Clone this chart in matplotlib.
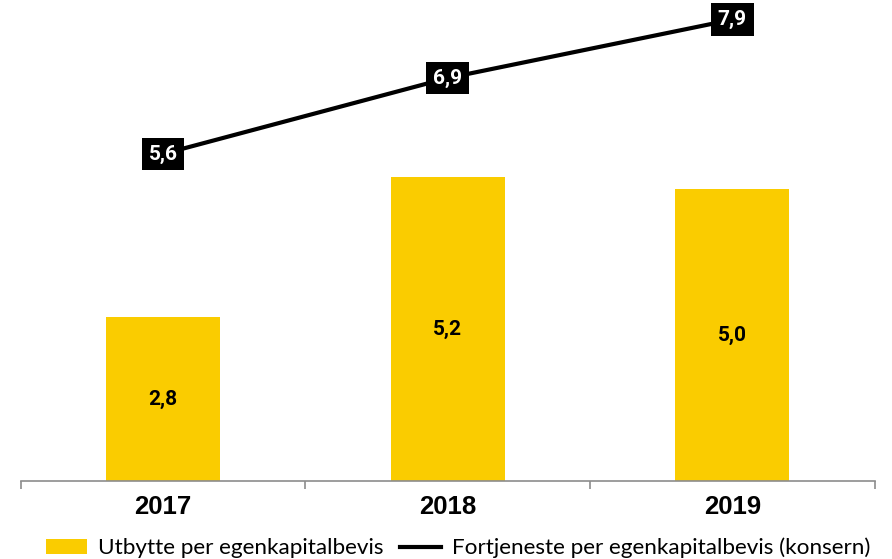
import matplotlib.pyplot as plt
import numpy as np

years = ['2017', '2018', '2019']
utbytte = [2.8, 5.2, 5.0]
fortjeneste = [5.6, 6.9, 7.9]

bar_color = '#FACC00'
legend_font = 'Lato'
label_font = 'Roboto'

fig = plt.figure(figsize=(8.92, 5.59), dpi=100)
ax = fig.add_axes([20.7 / 892, 78 / 559, 854 / 892, 481 / 559])

x = np.arange(len(years))
bars = ax.bar(x, utbytte, width=0.4, color=bar_color, zorder=2)
line, = ax.plot(x, fortjeneste, color='black', lw=3, zorder=3)

for xi, v in zip(x, utbytte):
    ax.text(xi, v / 2, f'{v:.1f}'.replace('.', ','), ha='center', va='center',
            fontsize=15, fontweight='bold', family=label_font, color='black', zorder=4)

for xi, v in zip(x, fortjeneste):
    ax.text(xi, v, f'{v:.1f}'.replace('.', ','), ha='center', va='center',
            fontsize=15, fontweight='bold', family=label_font, color='white', zorder=5,
            bbox=dict(boxstyle='square,pad=0.33', fc='black', ec='none'))

ax.set_xlim(-0.5, 2.5)
ax.set_ylim(0, 481 / 58.4)
for s in ['top', 'right', 'left']:
    ax.spines[s].set_visible(False)
ax.spines['bottom'].set_color('#8c8c8c')
ax.spines['bottom'].set_linewidth(1.2)
ax.set_yticks([])

ax.set_xticks([-0.5, 0.5, 1.5, 2.5])
ax.set_xticklabels([])
ax.tick_params(axis='x', which='major', length=6, width=1.2, color='#8c8c8c')
ax.set_xticks(x, minor=True)
ax.set_xticklabels(years, minor=True, fontsize=18.5, fontweight='bold', family='Liberation Sans')
ax.tick_params(axis='x', which='minor', length=0, pad=10)

fig.legend([bars, line], ['Utbytte per egenkapitalbevis', 'Fortjeneste per egenkapitalbevis (konsern)'],
           loc='lower center', bbox_to_anchor=(0.514, -0.035), ncol=2, frameon=False,
           prop={'family': legend_font, 'size': 16.2}, handlelength=1.8, handleheight=0.62,
           columnspacing=0.75, handletextpad=0.5)

fig.savefig('out.png', dpi=100)
